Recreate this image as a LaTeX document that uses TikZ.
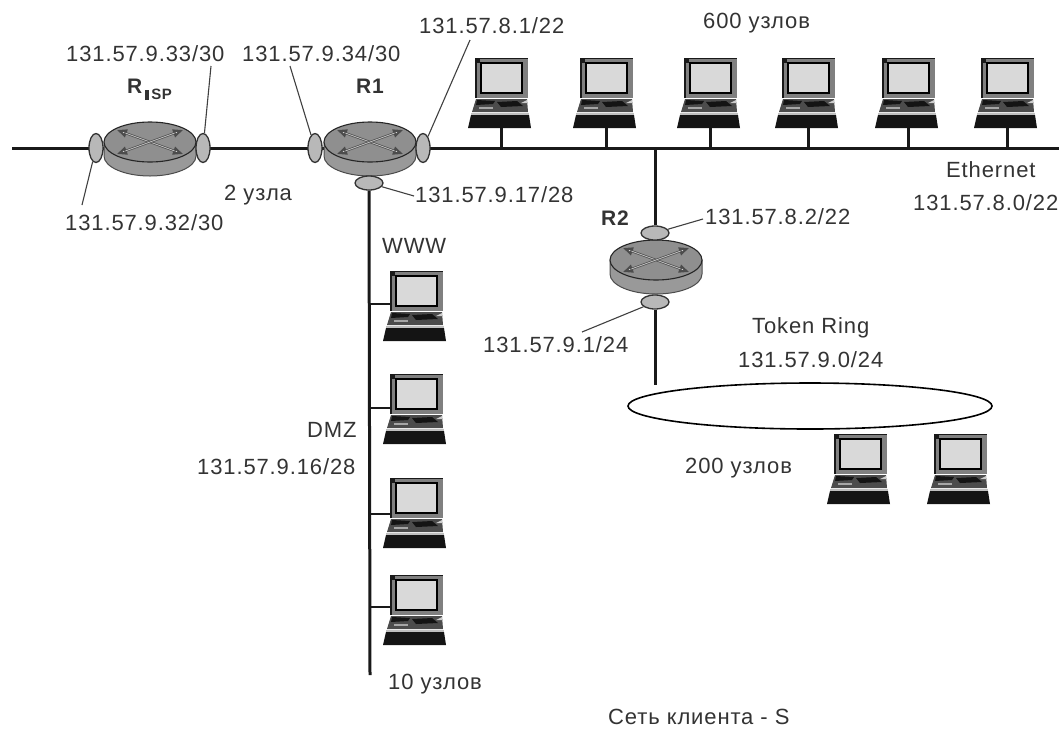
\documentclass[tikz,border=0pt]{standalone}
\usepackage{fontspec}
\setmainfont[LetterSpace=4]{Liberation Sans}
\usetikzlibrary{shapes.geometric,arrows.meta}
\definecolor{rtop}{gray}{0.56}
\definecolor{rside}{gray}{0.6}
\definecolor{port}{gray}{0.72}
\definecolor{screen}{gray}{0.85}
\definecolor{txt}{gray}{0.2}
\tikzset{
  lbl/.style={font=\fontsize{22}{24}\selectfont,text=txt,inner sep=0pt},
  rname/.style={font=\fontsize{21}{24}\selectfont\bfseries,text=txt,inner sep=0pt},
  wire/.style={line width=3pt,black!90},
  stubw/.style={line width=2.4pt,black!90},
  lead/.style={line width=1.1pt,black!75},
  portv/.style={ellipse,draw=black!80,line width=1.3pt,fill=port,minimum width=14pt,minimum height=29pt,inner sep=0pt},
  porth/.style={ellipse,draw=black!80,line width=1.3pt,fill=port,minimum width=28pt,minimum height=14pt,inner sep=0pt},
  ringst/.style={ellipse,draw=black,line width=1.6pt,fill=white,minimum width=364pt,minimum height=46pt,inner sep=0pt},
  pics/router/.style={code={
    \fill[rside,draw=black!70,line width=1pt] (-46,0) -- (-46,14) arc[start angle=180,end angle=0,x radius=46,y radius=20] -- (46,0) -- cycle;
    \fill[rtop,draw=black!85,line width=1.1pt] (0,0) ellipse[x radius=46,y radius=20];
    \foreach \sg in {1,-1}{
      \draw[line width=2.2pt,black!70,{Triangle[length=10pt,width=8pt,fill=white!88!black]}-{Triangle[length=10pt,width=8pt,fill=white!88!black]}] (-33*\sg,-12) -- (33*\sg,12);
      \draw[line width=.8pt,white!75!black,shorten >=9pt,shorten <=9pt] (-33*\sg,-12) -- (33*\sg,12);
    }
  }},
  pics/pc/.style={code={
    % monitor
    \fill[black!50] (-26,-20) rectangle (27,20);
    \draw[black!90,line width=1.6pt] (-25,20) -- (-25,-19.5) -- (27,-19.5);
    \fill[black!90] (-26,-20) rectangle (-21,-15);
    \fill[screen,draw=black,line width=1.3pt] (-20,-15) rectangle (21,15);
    % keyboard
    \fill[black!70] (-25,21) -- (26,21) -- (27,34) -- (-29,34) -- cycle;
    \fill[black!92] (-24,22) -- (-6,23) -- (-8,26) -- (-25,27) -- cycle;
    \fill[black!92] (-4,24) -- (16,23) -- (22,28) -- (0,29) -- cycle;
    \fill[black!35] (-22,29) rectangle (-8,31);
    \fill[black!20] (20,25) -- (26,22) -- (26,25) -- cycle;
    \fill[black!25] (-30,35) rectangle (28,37);
    \fill[black!92] (-30,37) -- (28,37) -- (30,50) -- (-33,50) -- cycle;
  }}
}
\begin{document}
\begin{tikzpicture}[x=1pt,y=-1pt]
\useasboundingbox (0,0) rectangle (1059,729);
\coordinate (wL) at (12,148);
\coordinate (wR) at (1059,148);
\coordinate (dmzEnd) at (370,675);
\coordinate (j1) at (655,148);
\coordinate (ringTop) at (655,385);
% top computers
\foreach \n/\x in {a/501,b/606,c/710,d/808,e/908,f/1007}{
  \coordinate (pc\n) at (\x,78);
  \coordinate (pc\n s) at (\x,127);
  \coordinate (pc\n w) at (\x,148);
  \draw[wire] (pc\n s) -- (pc\n w);
  \pic at (pc\n) {pc};
}
% DMZ computers
\foreach \n/\y/\yw in {g/291/304,h/394/408,i/498/514,j/595/607}{
  \coordinate (pc\n) at (416,\y);
  \coordinate (pc\n w) at (370,\yw);
  \coordinate (pc\n s) at (392,\yw);
  \draw[stubw] (pc\n w) -- (pc\n s);
  \pic at (pc\n) {pc};
}
% ring computers
\foreach \n/\x in {k/860,l/960}{
  \coordinate (pc\n) at (\x,454);
  \pic at (pc\n) {pc};
}
% routers and ports
\draw[wire] (wL) -- (wR);
\pic at (150,142) {router};
\pic at (370,142) {router};
\pic at (656,260) {router};
\node[portv] (pA) at (96,148) {};
\node[portv] (pB) at (203,148) {};
\node[portv] (pC) at (315,148) {};
\node[portv] (pD) at (423,148) {};
\node[porth] (pE) at (369,183) {};
\node[porth] (pF) at (655,233) {};
\node[porth] (pG) at (655,302) {};
\draw[wire] (pE) -- (dmzEnd);
\draw[wire] (j1) -- (pF);
\node[ringst] (ring) at (810,406) {};
\draw[wire] (pG) -- (ringTop);
% labels
\node[rname,anchor=base west] (nisp) at (127,93) {R\kern3pt\rule[-7pt]{4pt}{10pt}\kern2pt\raisebox{-6pt}{\fontsize{15}{15}\selectfont SP}};
\node[rname] (nr1) at (370,86) {R1};
\node[rname] (nr2) at (615,218) {R2};
\node[lbl,anchor=west] (l1) at (66,54) {131.57.9.33/30};
\node[lbl,anchor=west] (l2) at (242,54) {131.57.9.34/30};
\node[lbl,anchor=west] (l3) at (419,26) {131.57.8.1/22};
\node[lbl,anchor=west] (l4) at (65,223) {131.57.9.32/30};
\node[lbl,anchor=west] (l5) at (415,195) {131.57.9.17/28};
\node[lbl,anchor=west] (l6) at (705,217) {131.57.8.2/22};
\node[lbl,anchor=west] (l7) at (483,345) {131.57.9.1/24};
\node[lbl,anchor=west] (t1) at (224,195) {2 узла};
\node[lbl,anchor=west] (t2) at (703,23) {600 узлов};
\node[lbl,anchor=west] (t3) at (946,170) {Ethernet};
\node[lbl,anchor=west] (t4) at (913,203) {131.57.8.0/22};
\node[lbl,anchor=west] (t5) at (382,246) {WWW};
\node[lbl,anchor=west] (t6) at (752,328) {Token Ring};
\node[lbl,anchor=west] (t7) at (738,360) {131.57.9.0/24};
\node[lbl,anchor=west] (t8) at (685,468) {200 узлов};
\node[lbl,anchor=west] (t9) at (307,430) {DMZ};
\node[lbl,anchor=west] (t10) at (197,467) {131.57.9.16/28};
\node[lbl,anchor=west] (t11) at (388,684) {10 узлов};
\node[lbl,anchor=west] (t12) at (608,717) {Сеть клиента - S};
% leads
\coordinate (e1) at (211,66);
\coordinate (e2) at (290,66);
\coordinate (e3) at (470,40);
\coordinate (e4) at (82,205);
\coordinate (e5) at (414,196);
\coordinate (e6) at (703,219);
\coordinate (e7) at (582,332);
\draw[lead] (e1) -- (pB);
\draw[lead] (e2) -- (pC);
\draw[lead] (e3) -- (pD);
\draw[lead] (pA) -- (e4);
\draw[lead] (pE) -- (e5);
\draw[lead] (pF) -- (e6);
\draw[lead] (pG) -- (e7);
\end{tikzpicture}
\end{document}
